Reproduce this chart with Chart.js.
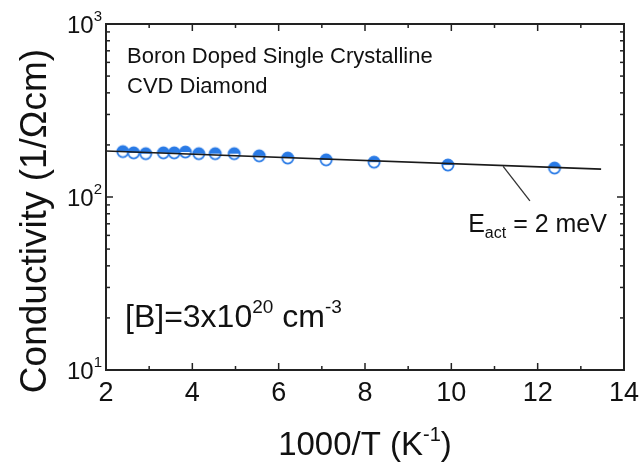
<!DOCTYPE html>
<html>
<head>
<meta charset="utf-8">
<script src="https://cdn.jsdelivr.net/npm/chart.js@4/dist/chart.umd.min.js"></script>
<style>
  body { margin: 0; background: #fff; }
  #wrap { width: 643px; height: 473px; }
</style>
</head>
<body>
<div id="wrap"><canvas id="myChart" width="643" height="473"></canvas></div>
<script>
// measured points: 1000/T (1/K) and conductivity (1/Ohm cm)
const invTemp = [2.39, 2.64, 2.92, 3.33, 3.58, 3.84, 4.15, 4.53, 4.97, 5.55, 6.21, 7.10, 8.21, 9.92, 12.39];
const conductivity = [183, 180, 178, 180, 180, 182, 178, 178, 178, 173, 168, 164, 159, 153, 147];

// Arrhenius fit line end points
const fitX = [2, 13.47];
const fitY = [184.5, 145];

// leader line from the fit to the activation energy label
const leaderX = [11.2, 11.82];
const leaderY = [150.5, 95];

// axis ticks
const xMajorTicks = [2, 4, 6, 8, 10, 12, 14];
const xMinorTicks = [3, 5, 7, 9, 11, 13];
const yMajorTicks = [10, 100, 1000];
const yTickExponents = ["1", "2", "3"];
const yMinorTicks = [20, 30, 40, 50, 60, 70, 80, 90, 200, 300, 400, 500, 600, 700, 800, 900];

const FONT = "'Liberation Sans', Arial, sans-serif";
const INK = "#111";
const BLUE = "#2a7be6";

// half filled circle marker
function makeMarker() {
  const c = document.createElement("canvas");
  c.width = 16;
  c.height = 16;
  const g = c.getContext("2d");
  g.beginPath();
  g.arc(8, 8, 5.6, 0, Math.PI * 2);
  g.fillStyle = "#fff";
  g.fill();
  g.beginPath();
  g.arc(8, 8, 5.6, Math.PI, Math.PI * 2);
  g.closePath();
  g.fillStyle = BLUE;
  g.fill();
  g.beginPath();
  g.arc(8, 8, 5.6, 0, Math.PI * 2);
  g.lineWidth = 1.8;
  g.strokeStyle = BLUE;
  g.stroke();
  return c;
}

// draw text made of pieces, each with its own size and vertical shift
function drawRich(ctx, parts, x, y, align) {
  let total = 0;
  parts.forEach(p => {
    ctx.font = p.size + "px " + FONT;
    p.w = ctx.measureText(p.t).width;
    total += p.w;
  });
  let cx = x;
  if (align === "center") cx = x - total / 2;
  if (align === "right") cx = x - total;
  ctx.textAlign = "left";
  ctx.textBaseline = "alphabetic";
  parts.forEach(p => {
    ctx.font = p.size + "px " + FONT;
    ctx.fillText(p.t, cx, y + (p.dy || 0));
    cx += p.w;
  });
}

const framePlugin = {
  id: "frame",
  afterDraw(chart) {
    const ctx = chart.ctx;
    const { left, right, top, bottom } = chart.chartArea;
    const xs = chart.scales.x;
    const ys = chart.scales.y;
    ctx.save();
    ctx.strokeStyle = "#222";
    ctx.fillStyle = INK;

    // ticks pointing into the plot on all four sides
    ctx.lineWidth = 1.5;
    const tick = (x1, y1, x2, y2) => {
      ctx.beginPath();
      ctx.moveTo(x1, y1);
      ctx.lineTo(x2, y2);
      ctx.stroke();
    };
    xMajorTicks.forEach(v => {
      const px = xs.getPixelForValue(v);
      tick(px, bottom, px, bottom - 7);
      tick(px, top, px, top + 7);
    });
    xMinorTicks.forEach(v => {
      const px = xs.getPixelForValue(v);
      tick(px, bottom, px, bottom - 4);
      tick(px, top, px, top + 4);
    });
    yMajorTicks.forEach(v => {
      const py = ys.getPixelForValue(v);
      tick(left, py, left + 7, py);
      tick(right, py, right - 7, py);
    });
    yMinorTicks.forEach(v => {
      const py = ys.getPixelForValue(v);
      tick(left, py, left + 4, py);
      tick(right, py, right - 4, py);
    });

    // frame
    ctx.lineWidth = 2;
    ctx.strokeRect(left, top, right - left, bottom - top);

    // tick labels
    xMajorTicks.forEach(v => {
      drawRich(ctx, [{ t: String(v), size: 27 }], xs.getPixelForValue(v), bottom + 31, "center");
    });
    yMajorTicks.forEach((v, i) => {
      drawRich(ctx, [{ t: "10", size: 24 }, { t: yTickExponents[i], size: 15, dy: -12 }],
        left - 4, ys.getPixelForValue(v) + 9, "right");
    });

    // axis titles
    drawRich(ctx, [{ t: "1000/T (K", size: 33 }, { t: "-1", size: 20, dy: -14 }, { t: ")", size: 33 }],
      (left + right) / 2, 455, "center");
    ctx.save();
    ctx.translate(46, 221);
    ctx.rotate(-Math.PI / 2);
    drawRich(ctx, [{ t: "Conductivity (1/\u03A9cm)", size: 37 }], 0, 0, "center");
    ctx.restore();

    // notes inside the plot
    drawRich(ctx, [{ t: "Boron Doped Single Crystalline", size: 22 }], 127, 63, "left");
    drawRich(ctx, [{ t: "CVD Diamond", size: 22 }], 127, 93, "left");
    drawRich(ctx, [{ t: "[B]=3x10", size: 32 }, { t: "20", size: 19, dy: -14 }, { t: " cm", size: 32 },
      { t: "-3", size: 19, dy: -14 }], 125, 327, "left");
    drawRich(ctx, [{ t: "E", size: 25 }, { t: "act", size: 16, dy: 6 }, { t: " = 2 meV", size: 25 }],
      xs.getPixelForValue(10.39), ys.getPixelForValue(62.8), "left");
    ctx.restore();
  }
};

const ctx = document.getElementById("myChart").getContext("2d");
const chart = new Chart(ctx, {
  type: "scatter",
  data: {
    datasets: [
      {
        label: "fit",
        data: fitX.map((x, i) => ({ x: x, y: fitY[i] })),
        showLine: true,
        borderColor: "#1a1a1a",
        borderWidth: 1.6,
        pointRadius: 0,
        order: 0
      },
      {
        label: "leader",
        data: leaderX.map((x, i) => ({ x: x, y: leaderY[i] })),
        showLine: true,
        borderColor: "#333",
        borderWidth: 1.3,
        pointRadius: 0,
        order: 0
      },
      {
        label: "data",
        data: invTemp.map((x, i) => ({ x: x, y: conductivity[i] })),
        pointStyle: makeMarker(),
        pointRadius: 7,
        order: 1
      }
    ]
  },
  options: {
    responsive: false,
    animation: false,
    devicePixelRatio: 1,
    layout: { padding: { left: 106, right: 19, top: 24, bottom: 103 } },
    plugins: { legend: { display: false }, tooltip: { enabled: false } },
    scales: {
      x: { type: "linear", min: 2, max: 14, display: false },
      y: { type: "logarithmic", min: 10, max: 1000, display: false }
    }
  },
  plugins: [framePlugin]
});
</script>
</body>
</html>
